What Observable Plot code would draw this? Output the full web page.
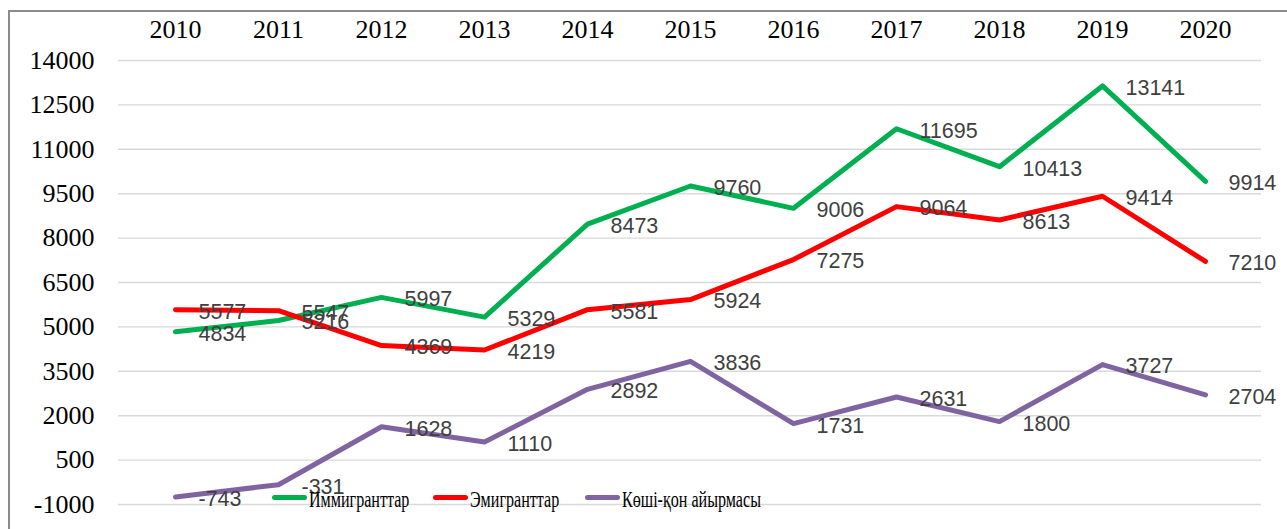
<!DOCTYPE html>
<html>
<head>
<meta charset="utf-8">
<script src="https://cdn.jsdelivr.net/npm/d3@7"></script>
<script src="https://cdn.jsdelivr.net/npm/@observablehq/plot@0.6"></script>
<style>
  html, body { margin: 0; padding: 0; background: #fff; overflow: hidden; }
  #wrap { position: relative; width: 1287px; height: 529px; }
  #border { position: absolute; left: 8px; top: 10px; width: 3000px; height: 3000px;
            border-left: 2px solid #8c8c8c; border-top: 2px solid #8c8c8c; pointer-events: none; }
  #legend { position: absolute; left: 0; top: 0; width: 1287px; height: 529px; pointer-events: none; }
  .item { position: absolute; top: 482px; height: 30px; display: flex; align-items: center; }
  .swatch { width: 35px; height: 5px; border-radius: 3px; }
  .label { font-family: "Liberation Serif", "Times New Roman", serif; font-size: 24px; color: #000;
           transform: scaleX(0.67); transform-origin: left center; white-space: nowrap; margin-left: 2px;
           position: relative; top: 2px; }
</style>
</head>
<body>
<div id="wrap">
  <div id="chart"></div>
  <div id="border"></div>
  <div id="legend"></div>
</div>
<script>
const years = ["2010","2011","2012","2013","2014","2015","2016","2017","2018","2019","2020"];
const immigrants = [4834, 5216, 5997, 5329, 8473, 9760, 9006, 11695, 10413, 13141, 9914];
const emigrants = [5577, 5547, 4369, 4219, 5581, 5924, 7275, 9064, 8613, 9414, 7210];
const netMigration = [-743, -331, 1628, 1110, 2892, 3836, 1731, 2631, 1800, 3727, 2704];
const seriesNames = ["Иммигранттар", "Эмигранттар", "Көші-қон айырмасы"];
const seriesColors = ["#00B050", "#FF0000", "#8064A2"];
const yTicks = [-1000, 500, 2000, 3500, 5000, 6500, 8000, 9500, 11000, 12500, 14000];

const seriesValues = [immigrants, emigrants, netMigration];
const data = [];
seriesNames.forEach((name, i) => {
  years.forEach((year, j) => data.push({series: name, year, value: seriesValues[i][j]}));
});

const chart = Plot.plot({
  width: 1287,
  height: 529,
  marginLeft: 118,
  marginRight: 26,
  marginTop: 60,
  marginBottom: 25,
  style: {background: "transparent", overflow: "visible"},
  x: {type: "point", domain: years, padding: 0.5},
  y: {domain: [-1000, 14000]},
  color: {domain: seriesNames, range: seriesColors},
  marks: [
    Plot.ruleY(yTicks, {stroke: "#d9d9d9", strokeWidth: 1.4}),
    Plot.line(data, {x: "year", y: "value", z: "series", stroke: "series",
      strokeWidth: 5, strokeLinecap: "round", strokeLinejoin: "round"}),
    Plot.text(data, {x: "year", y: "value", text: d => String(d.value),
      textAnchor: "start", dx: 23, dy: 2, fontSize: 21.5,
      fontFamily: "Liberation Sans, Arial, sans-serif", fill: "#404040"}),
    Plot.axisX({anchor: "top", tickSize: 0, tickPadding: 0, lineAnchor: "middle", dy: -31,
      fontSize: 26, fontFamily: "Liberation Serif, Times New Roman, serif", fill: "#000", label: null}),
    Plot.axisY({anchor: "left", ticks: yTicks, tickSize: 0, tickPadding: 24,
      fontSize: 26, fontFamily: "Liberation Serif, Times New Roman, serif", fill: "#000", label: null,
      tickFormat: d => String(d)})
  ]
});
document.getElementById("chart").appendChild(chart);

const legendLefts = [272, 433, 585];
const legend = document.getElementById("legend");
seriesNames.forEach((name, i) => {
  const item = document.createElement("div");
  item.className = "item";
  item.style.left = legendLefts[i] + "px";
  const sw = document.createElement("div");
  sw.className = "swatch";
  sw.style.background = seriesColors[i];
  const lb = document.createElement("div");
  lb.className = "label";
  lb.textContent = name;
  item.appendChild(sw);
  item.appendChild(lb);
  legend.appendChild(item);
});
</script>
</body>
</html>
